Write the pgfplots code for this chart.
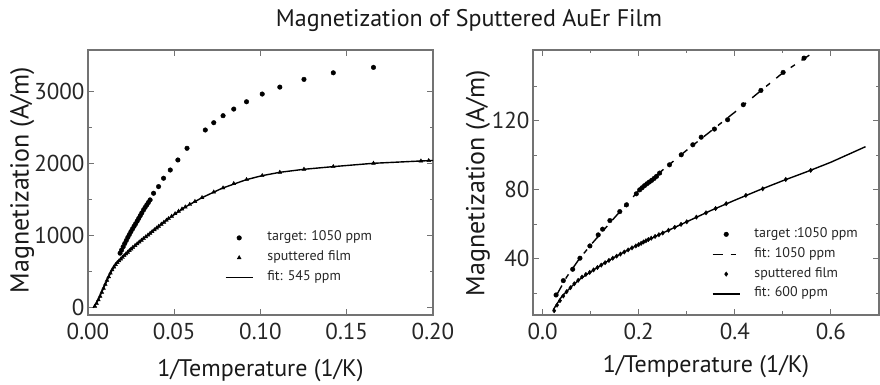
\documentclass[border=0pt]{standalone}
\usepackage{fontspec}
\setmainfont{PT Sans}
\usepackage{pgfplots}
\pgfplotsset{compat=1.18}
\definecolor{axgray}{gray}{0.45}
\pgfplotsset{
  mybase/.style={
    scale only axis, height=265pt,
    enlargelimits=false,
    axis line style={axgray, line width=1.3pt},
    tick style={axgray, line width=0.9pt},
    major tick length=6pt, minor tick length=3.5pt,
    tick align=inside,
    /pgf/number format/assume math mode=true,
    tick label style={font=\fontsize{23}{27}\selectfont, text=black!85},
    xticklabel style={yshift=-5pt},
    xlabel style={font=\fontsize{24}{28}\selectfont, text=black!90},
    ylabel style={font=\fontsize{26}{30}\selectfont, text=black!90},
    legend cell align=left,
    legend image code/.code={\draw[mark repeat=2,mark phase=2,##1] plot coordinates {(0pt,0pt)(13.5pt,0pt)(27pt,0pt)};},
  }
}
\begin{document}
\begin{tikzpicture}[x=1pt,y=1pt]
\useasboundingbox (0,0) rectangle (880,385);
\node[font=\fontsize{24}{28}\selectfont, text=black!90] at (469pt,364.5pt) {Magnetization of Sputtered AuEr Film};

% ---------------- left axis
\begin{axis}[mybase,
  at={(88pt,70pt)}, anchor=south west,
  width=345pt,
  xmin=0, xmax=0.2, ymin=-100, ymax=3570,
  xtick={0,0.05,0.1,0.15,0.2},
  xticklabels={0.00,0.05,0.10,0.15,0.20},
  ytick={0,1000,2000,3000},
  yticklabels={0,1000,2000,3000},
  minor ytick={500,1500,2500},
  xlabel={1/Temperature (1/K)},
  ylabel={Magnetization (A/m)},
  xlabel style={at={(axis description cs:0.5,-0.21)}, anchor=center},
  ylabel style={at={(axis description cs:-0.191,0.509)}, anchor=center},
  legend style={draw=none, fill=none, inner sep=0pt, outer sep=0pt,
    at={(axis description cs:0.3971,0.3283)}, anchor=north west,
    row sep=0pt,
    /tikz/every odd column/.append style={column sep=10pt},
    nodes={inner sep=4pt, text height=8.8pt, text depth=3pt, font=\fontsize{14}{16}\selectfont, text=black!85}},
]
\addplot[only marks, mark=*, mark size=2.3pt, black] coordinates {
(0.0186,756)(0.0195,800)(0.0204,845)(0.0213,890)(0.0222,932)(0.0231,975)(0.0240,1015)(0.0249,1055)(0.0258,1092)(0.0267,1128)(0.0276,1163)(0.0285,1200)(0.0294,1238)(0.0303,1276)(0.0312,1314)(0.0322,1355)(0.0331,1390)(0.0341,1425)(0.0350,1458)(0.0360,1494)
(0.0380,1586)(0.0409,1678)(0.0438,1794)(0.0477,1908)(0.0521,2047)(0.0574,2209)
(0.0680,2462)(0.0729,2563)(0.0783,2660)(0.0845,2752)(0.0919,2853)(0.1010,2960)(0.1112,3056)(0.1252,3163)(0.1422,3254)(0.1655,3329)};
\addlegendentry{target: 1050 ppm}
\addplot[only marks, mark=triangle*, mark size=2.2pt, black] coordinates {
(0.0040,20)(0.0050,60)(0.0060,110)(0.0070,160)(0.0080,215)(0.0090,270)(0.0100,325)(0.0110,380)(0.0120,430)(0.0130,480)(0.0140,525)(0.0150,565)(0.0160,598)(0.0170,626)(0.0180,650)(0.0190,674)(0.0200,698)(0.0210,722)(0.0220,746)(0.0230,769)(0.0240,792)(0.0250,814)(0.0260,836)(0.0273,862)(0.0285,886)(0.0297,910)(0.0310,935)(0.0322,958)(0.0335,983)(0.0348,1008)(0.0360,1031)(0.0372,1055)(0.0385,1080)(0.0398,1105)(0.0410,1128)(0.0425,1157)(0.0440,1185)(0.0455,1213)(0.0467,1235)(0.0485,1268)(0.0505,1303)(0.0525,1337)(0.0545,1368)(0.0564,1396)(0.0590,1432)(0.0620,1472)(0.0661,1525)(0.0729,1603)(0.0783,1660)(0.0845,1720)(0.0919,1775)(0.1010,1830)(0.1112,1876)(0.1252,1918)(0.1422,1955)(0.1655,2001)(0.1930,2033)(0.1975,2038)};
\addlegendentry{sputtered film}
\addplot[black, line width=1.4pt, no marks] coordinates {
(0.003,0)(0.006,110)(0.01,325)(0.014,525)(0.017,626)(0.02,698)(0.0273,862)(0.037,1050)(0.0467,1235)(0.0564,1396)(0.0661,1525)(0.0777,1655)(0.0919,1775)(0.101,1830)(0.1112,1876)(0.1252,1918)(0.1422,1955)(0.1655,2001)(0.193,2033)(0.2,2040)};
\addlegendentry{fit: 545 ppm}
\end{axis}

% ---------------- right axis
\begin{axis}[mybase,
  at={(533pt,70pt)}, anchor=south west,
  width=346pt,
  xmin=-0.02, xmax=0.7, ymin=7.5, ymax=161,
  xtick={0,0.2,0.4,0.6},
  xticklabels={0.0,0.2,0.4,0.6},
  minor xtick={0.1,0.3,0.5},
  ytick={40,80,120},
  minor ytick={20,60,100,140},
  xlabel={1/Temperature (1/K)},
  ylabel={Magnetization (A/m)},
  xlabel style={at={(axis description cs:0.5,-0.196)}, anchor=center},
  ylabel style={at={(axis description cs:-0.159,0.498)}, anchor=center},
  legend style={draw=none, fill=none, inner sep=0pt, outer sep=0pt,
    at={(axis description cs:0.5174,0.342)}, anchor=north west,
    row sep=0pt,
    /tikz/every odd column/.append style={column sep=10pt},
    nodes={inner sep=4pt, text height=8.9pt, text depth=3pt, font=\fontsize{14}{16}\selectfont, text=black!85}},
]
\addplot[only marks, mark=*, mark size=2.3pt, black] coordinates {
(0.028,19.1)(0.0431,27.4)(0.0626,34)(0.0777,40.4)(0.0984,47.5)(0.1157,53.9)(0.1248,57.2)(0.140,62.2)(0.1606,67.4)(0.1745,71.3)(0.195,77.7)(0.202,80)(0.207,81.2)(0.212,82.4)(0.217,83.5)(0.222,84.5)(0.227,85.5)(0.232,86.6)(0.237,87.8)(0.2435,89.7)(0.264,94.5)(0.2885,100.3)(0.3126,106.1)(0.330,110.5)(0.3575,115.2)(0.385,120.6)(0.4176,129.3)(0.4543,137.6)(0.5005,148)(0.544,156.3)};
\addlegendentry{target :1050 ppm}
\addplot[black, line width=1.4pt, no marks, dash pattern=on 10pt off 8pt on 5pt off 8pt] coordinates {
(0.03,19.5)(0.05,29.5)(0.075,39.5)(0.1,48)(0.15,64)(0.2,79.5)(0.25,91.5)(0.3,103)(0.35,114)(0.4,125)(0.45,136.5)(0.5,147.8)(0.555,158)};
\addlegendentry{fit: 1050 ppm}
\addplot[only marks, mark=diamond*, mark size=2.2pt, black] coordinates {
(0.024,10)(0.03,13.2)(0.036,15.8)(0.043,18.5)(0.05,21)(0.058,23.3)(0.066,25.6)(0.074,27.6)(0.082,29.5)(0.090,31)(0.098,32.2)(0.106,33.6)(0.114,35)(0.122,36.4)(0.130,37.8)(0.138,39.1)(0.146,40.4)(0.154,41.6)(0.162,42.8)(0.170,44)(0.178,45.2)(0.186,46.4)(0.194,47.5)(0.200,48.3)(0.205,49)(0.210,49.8)(0.215,50.5)(0.220,51.2)(0.226,52)(0.234,53)(0.242,54)(0.250,55)(0.262,56.6)(0.275,58.3)(0.288,60)(0.300,61.5)(0.320,64.2)(0.340,66.7)(0.360,69.2)(0.382,72)(0.423,76.8)(0.458,80.6)(0.506,86)(0.558,91.3)};
\addlegendentry{sputtered film}
\addplot[black, line width=1.4pt, no marks] coordinates {
(0.022,10.5)(0.04,18.3)(0.06,24)(0.08,28.8)(0.1,32.5)(0.125,37)(0.15,41)(0.175,44.8)(0.2,48.3)(0.25,55)(0.3,61.5)(0.35,68)(0.4,74)(0.45,79.8)(0.5,85.3)(0.55,90.5)(0.6,96)(0.672,105)};
\addlegendentry{fit: 600 ppm}
\end{axis}
\end{tikzpicture}
\end{document}
